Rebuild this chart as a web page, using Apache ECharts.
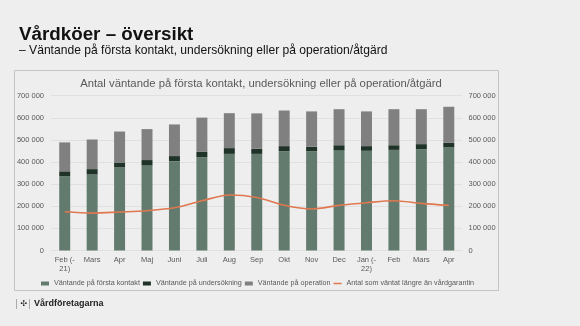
<!DOCTYPE html>
<html>
<head>
<meta charset="utf-8">
<script src="https://cdn.jsdelivr.net/npm/echarts@6/dist/echarts.min.js"></script>
<style>
  html, body { margin: 0; padding: 0; background: #eeeeee; }
  #chart { width: 580px; height: 326px; }
</style>
</head>
<body>
<div id="chart"></div>
<script>
// Månader (feb 2021 – apr 2022)
var categories = ['Feb (-\n21)', 'Mars', 'Apr', 'Maj', 'Juni', 'Juli', 'Aug', 'Sep', 'Okt', 'Nov', 'Dec', 'Jan (-\n22)', 'Feb', 'Mars', 'Apr'];

// Antal väntande (personer)
var forstaKontakt = [336000, 344000, 376000, 385000, 404000, 421000, 437000, 437000, 449000, 449000, 454000, 451000, 455000, 458000, 466000];
var undersokning  = [22000, 24000, 22000, 24000, 23000, 25000, 26000, 23000, 23000, 20000, 22000, 21000, 21000, 23000, 21000];
var operation     = [131000, 134000, 140000, 140000, 143000, 155000, 158000, 160000, 161000, 160000, 163000, 157000, 163000, 158000, 163000];
var overGarantin  = [175000, 169000, 174000, 180000, 193000, 225000, 251000, 240000, 205000, 188000, 204000, 216000, 225000, 213000, 204000];

// Axelns skala
var axisMax = 700000;
var axisStep = 100000;

var FONT = '"Liberation Sans", Arial, sans-serif';
var GREY_TEXT = '#595959';
var ORANGE = '#e0784f';

function fmt(v) {
  return String(v).replace(/\B(?=(\d{3})+(?!\d))/g, ' ');
}

var chart = echarts.init(document.getElementById('chart'), null, { renderer: 'canvas' });

var valueAxisBase = {
  type: 'value',
  min: 0,
  max: axisMax,
  interval: axisStep,
  axisLine: { show: false },
  axisTick: { show: false },
  axisLabel: { color: GREY_TEXT, fontSize: 7.5, fontFamily: FONT, formatter: fmt }
};

chart.setOption({
  backgroundColor: '#eeeeee',
  animation: false,
  textStyle: { fontFamily: FONT },
  title: [
    {
      text: 'Vårdköer – översikt',
      left: 14, top: 20,
      textStyle: { fontSize: 18.8, fontWeight: 'bold', color: '#111111', fontFamily: FONT }
    },
    {
      text: '– Väntande på första kontakt, undersökning eller på operation/åtgärd',
      left: 14, top: 40,
      textStyle: { fontSize: 12.1, fontWeight: 'normal', color: '#111111', fontFamily: FONT }
    },
    {
      text: 'Antal väntande på första kontakt, undersökning eller på operation/åtgärd',
      left: 256, top: 73.5, textAlign: 'center',
      textStyle: { fontSize: 11.3, fontWeight: 'normal', color: GREY_TEXT, fontFamily: FONT }
    }
  ],
  graphic: [
    {
      type: 'rect', z: -1, silent: true,
      shape: { x: 14.5, y: 70.5, width: 484, height: 220 },
      style: { fill: '#eeeeee', stroke: '#c4c4c4', lineWidth: 1 }
    },
    {
      type: 'rect', silent: true,
      shape: { x: 16, y: 299, width: 0.8, height: 10 },
      style: { fill: '#9a9a9a' }
    },
    {
      type: 'text', silent: true,
      style: { text: '✣', x: 20.5, y: 299.5, fontSize: 8, fontWeight: 'bold', fill: '#222222', fontFamily: '"DejaVu Sans", sans-serif' }
    },
    {
      type: 'rect', silent: true,
      shape: { x: 29, y: 299, width: 0.8, height: 10 },
      style: { fill: '#9a9a9a' }
    },
    {
      type: 'text', silent: true,
      style: { text: 'Vårdföretagarna', x: 34, y: 299.5, fontSize: 9, fontWeight: 'bold', fill: '#222222', fontFamily: FONT }
    }
  ],
  grid: { left: 51, right: 117.5, top: 95.7, bottom: 75.5, containLabel: false },
  legend: {
    top: 275,
    left: 36,
    itemWidth: 8,
    itemHeight: 4,
    itemGap: 3,
    textStyle: { color: GREY_TEXT, fontSize: 7.2, fontFamily: FONT },
    data: [
      { name: 'Väntande på första kontakt', icon: 'rect' },
      { name: 'Väntande på undersökning', icon: 'rect' },
      { name: 'Väntande på operation', icon: 'rect' },
      {
        name: 'Antal som väntat längre än vårdgarantin',
        icon: 'path://M0,0L0.01,0L0,0ZM0,3H20V7H0ZM0,10L0.01,10L0,10Z',
        itemStyle: { color: ORANGE, borderWidth: 0 }
      }
    ]
  },
  xAxis: {
    type: 'category',
    data: categories,
    axisLine: { show: false },
    axisTick: { show: false },
    axisLabel: { color: GREY_TEXT, fontSize: 7.5, lineHeight: 8.7, margin: 5, fontFamily: FONT, interval: 0 }
  },
  yAxis: [
    Object.assign({}, valueAxisBase, {
      position: 'left',
      splitLine: { show: true, lineStyle: { color: '#dcdcdc', width: 0.8 } },
      axisLabel: Object.assign({}, valueAxisBase.axisLabel, { margin: 7 })
    }),
    Object.assign({}, valueAxisBase, {
      position: 'right',
      splitLine: { show: false },
      axisLabel: Object.assign({}, valueAxisBase.axisLabel, { margin: 6 })
    })
  ],
  series: [
    {
      name: 'Väntande på första kontakt', type: 'bar', stack: 'k', barWidth: '40%',
      itemStyle: { color: '#627b6e' }, data: forstaKontakt
    },
    {
      name: 'Väntande på undersökning', type: 'bar', stack: 'k',
      itemStyle: { color: '#1f3329' }, data: undersokning
    },
    {
      name: 'Väntande på operation', type: 'bar', stack: 'k',
      itemStyle: { color: '#808080' }, data: operation
    },
    {
      name: 'Antal som väntat längre än vårdgarantin', type: 'line', yAxisIndex: 0,
      smooth: 0.3, showSymbol: false, symbol: 'none',
      lineStyle: { color: ORANGE, width: 1.6 },
      itemStyle: { color: ORANGE },
      data: overGarantin, z: 5
    }
  ]
});
</script>
</body>
</html>
